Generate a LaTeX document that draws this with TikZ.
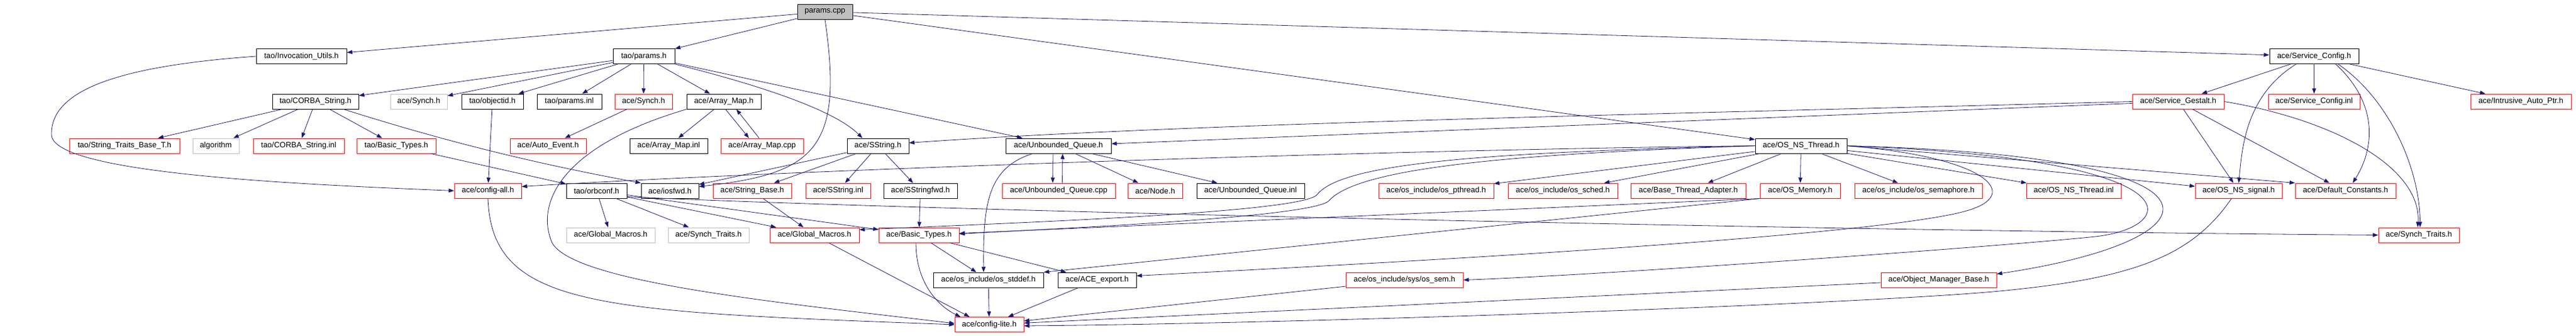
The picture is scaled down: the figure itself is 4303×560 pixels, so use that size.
\documentclass[tikz,border=0pt]{standalone}
\usepackage{fontspec}
\setmainfont{Liberation Sans}
\usetikzlibrary{arrows.meta}
\definecolor{edgeblue}{HTML}{191970}
\definecolor{boxgray}{HTML}{BFBFBF}
\begin{document}
\begin{tikzpicture}[>={Triangle[length=9pt,width=6.5pt]}, x=1pt, y=-1pt,
  hdr/.style={draw=black, line width=1pt, minimum height=25pt, inner sep=0pt, font=\fontsize{13}{15}\selectfont},
  redhdr/.style={hdr, draw=red},
  grayhdr/.style={hdr, draw=boxgray},
  dep/.style={->, draw=edgeblue, line width=0.8pt}]
\useasboundingbox (0,0) rectangle (4303,560);

% Arquivo de origem
\node[hdr, fill=boxgray, minimum width=92] (cpp) at (1378,19.5) {params.cpp};

% Primeiro nivel
\node[hdr, minimum width=151] (invutil) at (503.5,94) {tao/Invocation\_Utils.h};
\node[hdr, minimum width=103] (tparams) at (1075.5,94) {tao/params.h};
\node[hdr, minimum width=149] (svccfg) at (3865.5,94) {ace/Service\_Config.h};

% Segundo nivel
\node[hdr, minimum width=144] (corbastr) at (527,169.5) {tao/CORBA\_String.h};
\node[grayhdr, minimum width=95] (synchg) at (699.5,169.5) {ace/Synch.h};
\node[hdr, minimum width=103] (objid) at (822.5,169.5) {tao/objectid.h};
\node[hdr, minimum width=108] (pinl) at (951,169.5) {tao/params.inl};
\node[redhdr, minimum width=96] (synch) at (1075,169.5) {ace/Synch.h};
\node[hdr, minimum width=124] (amap) at (1209,169.5) {ace/Array\_Map.h};
\node[redhdr, minimum width=153] (gestalt) at (3638.5,169.5) {ace/Service\_Gestalt.h};
\node[redhdr, minimum width=153] (svcinl) at (3865.5,169.5) {ace/Service\_Config.inl};
\node[redhdr, minimum width=168] (autoptr) at (4211,169.5) {ace/Intrusive\_Auto\_Ptr.h};

% Terceiro nivel
\node[redhdr, minimum width=184] (strtraits) at (208,243.5) {tao/String\_Traits\_Base\_T.h};
\node[grayhdr, minimum width=77] (algo) at (360.5,243.5) {algorithm};
\node[redhdr, minimum width=152] (corbainl) at (499,243.5) {tao/CORBA\_String.inl};
\node[redhdr, minimum width=132] (tbasic) at (662,243.5) {tao/Basic\_Types.h};
\node[redhdr, minimum width=127] (autoev) at (915.5,243.5) {ace/Auto\_Event.h};
\node[hdr, minimum width=130] (aminl) at (1117,243.5) {ace/Array\_Map.inl};
\node[redhdr, minimum width=138] (amcpp) at (1273,243.5) {ace/Array\_Map.cpp};
\node[hdr, minimum width=103] (sstring) at (1466.5,243.5) {ace/SString.h};
\node[hdr, minimum width=176] (uq) at (1768,243.5) {ace/Unbounded\_Queue.h};
\node[hdr, minimum width=153] (osthread) at (3008.5,243.5) {ace/OS\_NS\_Thread.h};

% Quarto nivel
\node[redhdr, minimum width=112] (cfgall) at (815,318.5) {ace/config-all.h};
\node[hdr, minimum width=101] (orbconf) at (996.5,318.5) {tao/orbconf.h};
\node[hdr, minimum width=96] (iosfwd) at (1119,318.5) {ace/iosfwd.h};
\node[redhdr, minimum width=131] (strbase) at (1256.5,318.5) {ace/String\_Base.h};
\node[redhdr, minimum width=108] (sstrinl) at (1400,318.5) {ace/SString.inl};
\node[hdr, minimum width=123] (sstrfwd) at (1537.5,318.5) {ace/SStringfwd.h};
\node[redhdr, minimum width=189] (uqcpp) at (1768.5,318.5) {ace/Unbounded\_Queue.cpp};
\node[redhdr, minimum width=91] (nodeh) at (1929.5,318.5) {ace/Node.h};
\node[hdr, minimum width=180] (uqinl) at (2089,318.5) {ace/Unbounded\_Queue.inl};
\node[redhdr, minimum width=192] (pthread) at (2399,318.5) {ace/os\_include/os\_pthread.h};
\node[redhdr, minimum width=183] (sched) at (2610.5,318.5) {ace/os\_include/os\_sched.h};
\node[redhdr, minimum width=192] (bta) at (2820,318.5) {ace/Base\_Thread\_Adapter.h};
\node[redhdr, minimum width=134] (osmem) at (3007,318.5) {ace/OS\_Memory.h};
\node[redhdr, minimum width=213] (semaph) at (3204.5,318.5) {ace/os\_include/os\_semaphore.h};
\node[redhdr, minimum width=158] (thrinl) at (3464,318.5) {ace/OS\_NS\_Thread.inl};
\node[redhdr, minimum width=145] (signal) at (3739.5,318.5) {ace/OS\_NS\_signal.h};
\node[redhdr, minimum width=168] (defc) at (3918,318.5) {ace/Default\_Constants.h};

% Quinto nivel
\node[grayhdr, minimum width=148] (gmgray) at (1020,392.5) {ace/Global\_Macros.h};
\node[grayhdr, minimum width=135] (stgray) at (1183.5,392.5) {ace/Synch\_Traits.h};
\node[redhdr, minimum width=149] (gmred) at (1360.5,392.5) {ace/Global\_Macros.h};
\node[redhdr, minimum width=134] (basic) at (1535,392.5) {ace/Basic\_Types.h};
\node[redhdr, minimum width=135] (synchtr) at (4040.5,392.5) {ace/Synch\_Traits.h};

% Sexto nivel
\node[hdr, minimum width=184] (stddef) at (1651,467.5) {ace/os\_include/os\_stddef.h};
\node[hdr, minimum width=131] (acexp) at (1832.5,467.5) {ace/ACE\_export.h};
\node[redhdr, minimum width=196] (ossem) at (2346,467.5) {ace/os\_include/sys/os\_sem.h};
\node[redhdr, minimum width=193] (objmgr) at (3238.5,467.5) {ace/Object\_Manager\_Base.h};

% Base
\node[redhdr, minimum width=115] (cfglite) at (1652.5,542) {ace/config-lite.h};

% params.cpp
\draw[dep] (cpp) -- (invutil);
\draw[dep] (cpp) -- (tparams);
\draw[dep] (cpp) -- (osthread);
\draw[dep] (cpp) -- (svccfg);
\draw[dep] (cpp.south) .. controls (1410,250) and (1360,290) .. ([yshift=7pt]iosfwd.east);

% tao/Invocation_Utils.h
\draw[dep] (invutil.west) .. controls (200,110) and (84,150) .. (86,225) .. controls (88,290) and (500,308) .. (cfgall.west);

% tao/params.h
\draw[dep] (tparams) -- (corbastr);
\draw[dep] (tparams) -- (synchg);
\draw[dep] (tparams) -- (objid);
\draw[dep] (tparams) -- (pinl);
\draw[dep] (tparams) -- (synch);
\draw[dep] (tparams) -- (amap);
\draw[dep] (tparams.south east) .. controls (1300,150) and (1400,190) .. ([xshift=-26pt]sstring.north);
\draw[dep] (tparams) -- (uq);

% tao/CORBA_String.h
\draw[dep] (corbastr) -- (strtraits);
\draw[dep] (corbastr) -- (algo);
\draw[dep] (corbastr) -- (corbainl);
\draw[dep] (corbastr) -- (tbasic);
\draw[dep] ([xshift=47pt]corbastr.south) .. controls (700,222) and (850,265) .. (iosfwd.north west);
\draw[dep] (tbasic) -- (orbconf);
\draw[dep] (objid) -- (cfgall);
\draw[dep] (synch) -- (autoev);

% ace/Array_Map.h
\draw[dep] (amap) -- (aminl);
\draw[dep] ([xshift=3pt]amap.south) -- ([xshift=-22pt]amcpp.north);
\draw[dep] ([xshift=-5pt]amcpp.north) -- ([xshift=21pt]amap.south);
\draw[dep] (amap.south west) .. controls (950,240) and (895,330) .. (920,400) .. controls (940,470) and (1300,505) .. ([yshift=2pt]cfglite.west);
\draw[dep] (cfgall.south) .. controls (822,515) and (1000,520) .. (cfglite.west);

% tao/orbconf.h
\draw[dep] (orbconf) -- (gmgray);
\draw[dep] (orbconf) -- (stgray);
\draw[dep] (orbconf) -- (gmred);
\draw[dep] (orbconf) -- (basic);
\draw[dep] ([yshift=3pt]orbconf.south east) .. controls (1500,350) and (3000,385) .. (synchtr.west);

% ace/SString.h
\draw[dep] (sstring) -- (iosfwd);
\draw[dep] (sstring) -- (strbase);
\draw[dep] (sstring) -- (sstrinl);
\draw[dep] (sstring) -- (sstrfwd);
\draw[dep] (sstrfwd) -- (basic);
\draw[dep] (strbase) -- (gmred);

% ace/Unbounded_Queue.h
\draw[dep] ([xshift=-9pt]uq.south) -- ([xshift=-10pt]uqcpp.north);
\draw[dep] ([xshift=6pt]uqcpp.north) -- ([xshift=7pt]uq.south);
\draw[dep] (uq) -- (nodeh);
\draw[dep] (uq) -- (uqinl);
\draw[dep] ([xshift=-43pt]uq.south) .. controls (1650,280) and (1642,340) .. ([xshift=-8pt]stddef.north);

% ace/Basic_Types.h
\draw[dep] (basic) -- (stddef);
\draw[dep] (basic) -- (acexp);
\draw[dep] ([xshift=-5pt]basic.south) .. controls (1530,480) and (1575,515) .. ([xshift=-48pt]cfglite.north);
\draw[dep] ([xshift=24pt]gmred.south) -- ([xshift=-33pt]cfglite.north);
\draw[dep] (stddef) -- (cfglite);
\draw[dep] (acexp) -- (cfglite);
\draw[dep] (ossem) -- (cfglite);
\draw[dep] (objmgr) -- (cfglite);

% ace/OS_NS_Thread.h
\draw[dep] (osthread) -- (pthread);
\draw[dep] (osthread) -- (sched);
\draw[dep] (osthread) -- (bta);
\draw[dep] (osthread) -- (osmem);
\draw[dep] (osthread) -- (semaph);
\draw[dep] (osthread) -- (thrinl);
\draw[dep] (osthread) -- (signal);
\draw[dep] (osthread.east) -- (defc.north west);
\draw[dep] (osthread.west) .. controls (2300,250) and (1300,285) .. ([yshift=7pt]cfgall.east);
\draw[dep] (osthread.west) .. controls (2450,255) and (2240,275) .. (2200,325) .. controls (2176,355) and (1700,372) .. ([yshift=9pt]gmred.east);
\draw[dep] (osthread.west) .. controls (2480,258) and (2265,285) .. (2220,335) .. controls (2195,362) and (1800,380) .. ([yshift=2pt]basic.east);
\draw[dep] (osthread.east) .. controls (3320,262) and (3380,325) .. (3285,352) .. controls (3130,396) and (2300,440) .. ([yshift=7pt]acexp.east);
\draw[dep] (osthread.east) .. controls (3680,265) and (3640,380) .. (3500,395) .. controls (3360,410) and (2700,458) .. (ossem.east);
\draw[dep] (osthread.east) .. controls (3760,260) and (3720,400) .. ([yshift=-3pt]objmgr.north east);
\draw[dep] (osmem.south west) -- (basic);
\draw[dep] (osmem.south west) -- (stddef.north east);
\draw[dep] ([xshift=-12pt]signal.south) .. controls (3660,430) and (3560,465) .. (3340,486) .. controls (3120,507) and (2200,540) .. ([yshift=-2pt]cfglite.east);

% ace/Service_Config.h
\draw[dep] (svccfg) -- (gestalt);
\draw[dep] (svccfg) -- (svcinl);
\draw[dep] (svccfg) -- (autoptr);
\draw[dep] ([xshift=-30pt]svccfg.south) .. controls (3750,160) and (3745,250) .. (signal.north);
\draw[dep] ([xshift=36pt]svccfg.south) .. controls (3975,175) and (3965,250) .. ([xshift=12pt]defc.north);
\draw[dep] ([xshift=40pt]svccfg.south) .. controls (3990,165) and (4042,280) .. ([xshift=2pt]synchtr.north);

% ace/Service_Gestalt.h
\draw[dep] (gestalt.west) .. controls (2800,190) and (2000,205) .. ([yshift=5pt]sstring.east);
\draw[dep] (gestalt) -- (uq);
\draw[dep] (gestalt) -- (signal);
\draw[dep] (gestalt) -- ([xshift=-27pt]defc.north);
\draw[dep] (gestalt.east) .. controls (3900,200) and (4045,280) .. ([xshift=-2pt]synchtr.north);
\end{tikzpicture}
\end{document}
